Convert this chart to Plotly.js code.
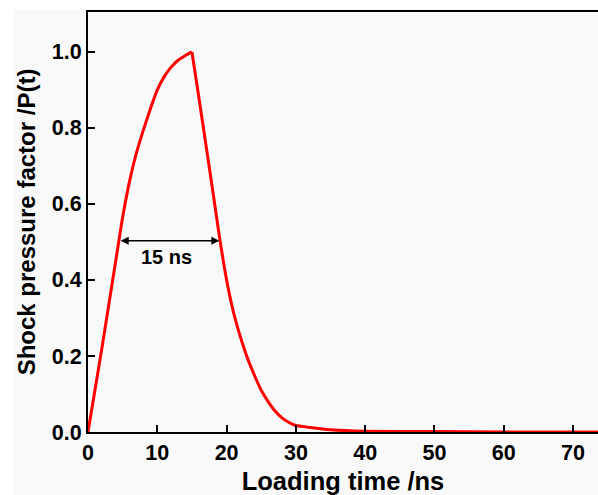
<!DOCTYPE html>
<html>
<head>
<meta charset="utf-8">
<script src="https://cdn.plot.ly/plotly-3.0.1.min.js"></script>
<style>
  html, body { margin: 0; padding: 0; background: #ffffff; width: 598px; height: 495px; overflow: hidden; }
  #chart { position: absolute; left: 13px; top: 9px; width: 585px; height: 486px; }
</style>
</head>
<body>
<div id="chart"></div>
<script>
// Loading time (ns) and shock pressure factor P(t)
// Rising part (0 -> peak at 15 ns)
const riseTime = [0, 1, 2, 3, 4, 5, 6, 7, 8, 9, 10, 11, 12, 13, 14, 15];
const risePressure = [0, 0.11, 0.22, 0.335, 0.45, 0.565, 0.66, 0.735, 0.795, 0.85, 0.9, 0.935, 0.96, 0.978, 0.99, 1.0];
// Decaying part (peak -> tail)
const decayTime = [15, 16, 17, 18, 19, 20, 21, 22, 23, 24, 25, 26, 27, 28, 29, 30,
                   32, 35, 40, 50, 60, 74];
const decayPressure = [1.0, 0.88, 0.758, 0.635, 0.51, 0.4, 0.315, 0.25, 0.195, 0.15, 0.11, 0.08, 0.055, 0.037, 0.025, 0.017,
                       0.012, 0.006, 0.002, 0.001, 0, 0];

// FWHM annotation
const fwhmStart = 4.5;
const fwhmEnd = 18.95;
const fwhmLevel = 0.503;
const fwhmLabel = "15 ns";
const fwhmLabelPos = [11.35, 0.46];

const xTicks = [0, 10, 20, 30, 40, 50, 60, 70];
const yTicks = [0, 0.2, 0.4, 0.6, 0.8, 1.0];
const yTickText = ["0.0", "0.2", "0.4", "0.6", "0.8", "1.0"];

const FONT = "'Liberation Sans', Arial, sans-serif";

const lineStyle = { color: "#ff0000", width: 3, shape: "spline", smoothing: 0.6 };
const traces = [
  { x: riseTime, y: risePressure, type: "scatter", mode: "lines", line: lineStyle, hoverinfo: "skip" },
  { x: decayTime, y: decayPressure, type: "scatter", mode: "lines", line: lineStyle, hoverinfo: "skip" }
];

const layout = {
  width: 585,
  height: 486,
  margin: { l: 75, r: 0, t: 3, b: 63 },
  paper_bgcolor: "#f9f9f9",
  plot_bgcolor: "#f9f9f9",
  showlegend: false,
  font: { family: FONT, color: "#000000" },
  xaxis: {
    range: [0, 73.6],
    tickvals: xTicks,
    ticktext: xTicks.map(String),
    ticks: "inside",
    ticklen: 7,
    tickwidth: 2,
    tickcolor: "#000",
    showline: true,
    linecolor: "#000",
    linewidth: 2,
    mirror: true,
    showgrid: false,
    zeroline: false,
    tickfont: { family: FONT, size: 21.5, weight: "bold", color: "#000" },
    title: { text: "<b>Loading time /ns</b>", font: { family: FONT, size: 25.5, color: "#000" }, standoff: 15 }
  },
  yaxis: {
    range: [0, 1.105],
    tickvals: yTicks,
    ticktext: yTickText,
    ticks: "inside",
    ticklen: 7,
    tickwidth: 2,
    tickcolor: "#000",
    showline: true,
    linecolor: "#000",
    linewidth: 2,
    mirror: false,
    showgrid: false,
    zeroline: false,
    tickfont: { family: FONT, size: 21.5, weight: "bold", color: "#000" },
    title: { text: "<b>Shock pressure factor /P(t)</b>", font: { family: FONT, size: 24, color: "#000" }, standoff: 15 }
  },
  annotations: [
    {
      x: fwhmEnd, y: fwhmLevel, ax: fwhmStart, ay: fwhmLevel,
      xref: "x", yref: "y", axref: "x", ayref: "y",
      text: "", showarrow: true,
      arrowhead: 2, startarrowhead: 2, arrowside: "end+start",
      arrowsize: 1, startarrowsize: 1, arrowwidth: 1.6, arrowcolor: "#000",
      standoff: 0, startstandoff: 0
    },
    {
      x: fwhmLabelPos[0], y: fwhmLabelPos[1], xref: "x", yref: "y",
      text: "<b>" + fwhmLabel + "</b>", showarrow: false,
      font: { family: FONT, size: 20, color: "#000" }
    }
  ]
};

Plotly.newPlot("chart", traces, layout, { displayModeBar: false, staticPlot: true });
</script>
</body>
</html>
